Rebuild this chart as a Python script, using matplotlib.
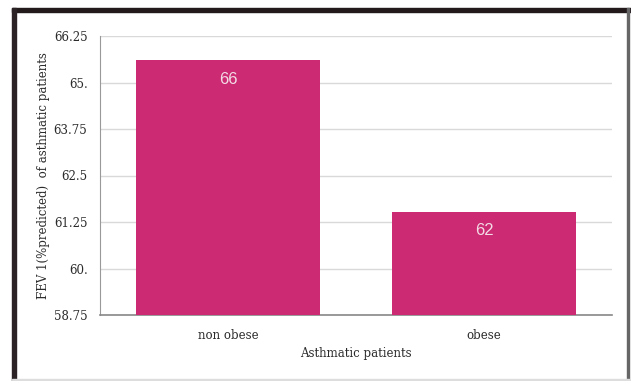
import matplotlib
matplotlib.use("Agg")
import matplotlib.pyplot as plt
from matplotlib.patches import Rectangle

categories = ["non obese", "obese"]
values = [65.6, 61.53]
value_labels = ["66", "62"]
yticks = [58.75, 60.0, 61.25, 62.5, 63.75, 65.0, 66.25]
ytick_labels = ["58.75", "60.", "61.25", "62.5", "63.75", "65.", "66.25"]

plt.rcParams['font.family'] = ['DejaVu Serif', 'Liberation Serif']

W, H = 631, 381
fig = plt.figure(figsize=(W / 100, H / 100), dpi=100)
fig.patch.set_facecolor("white")

ax = fig.add_axes([100 / W, 66 / H, 512 / W, 279 / H])
x = list(range(len(categories)))
bars = ax.bar(x, values, width=0.715, color="#CC2A72", zorder=3)
ax.set_xlim(-0.5, 1.5)
ax.set_ylim(58.75, 66.25)
ax.set_yticks(yticks)
ax.set_yticklabels(ytick_labels)
ax.set_xticks(x)
ax.set_xticklabels(categories)
ax.tick_params(axis="both", length=0, labelsize=8.5, colors="#2b2b2b")
ax.tick_params(axis="y", pad=9)
ax.tick_params(axis="x", pad=10)
ax.grid(axis="y", color="#d9d9d9", linewidth=1, zorder=0)
for s in ["top", "right"]:
    ax.spines[s].set_visible(False)
ax.spines["left"].set_color("#999999")
ax.spines["bottom"].set_color("#888888")
ax.spines["bottom"].set_linewidth(1.2)

ax.bar_label(bars, labels=value_labels, padding=-19, color="#f3dbe6", fontsize=12,
             family=["Liberation Sans", "DejaVu Sans"])

ax.set_ylabel("FEV 1(%predicted)  of asthmatic patients", fontsize=8.5, color="#2b2b2b", labelpad=2.5)
ax.set_xlabel("Asthmatic patients", fontsize=8.5, color="#2b2b2b", labelpad=4)

# frame around figure
fig.patches.append(Rectangle((12 / W, 1 - 12 / H), 1 - 12 / W, 4 / H, transform=fig.transFigure,
                             color="#231a1c", zorder=10))
fig.patches.append(Rectangle((12 / W, 0), 4 / W, 1 - 8 / H, transform=fig.transFigure,
                             color="#2a2224", zorder=10))
fig.patches.append(Rectangle((627 / W, 0), 1.5 / W, 1 - 8 / H, transform=fig.transFigure,
                             color="#666666", zorder=10))
fig.patches.append(Rectangle((12 / W, 1 / H), 1 - 12 / W, 1.5 / H, transform=fig.transFigure,
                             color="#dddddd", zorder=10))

fig.savefig("out.png", dpi=100)
